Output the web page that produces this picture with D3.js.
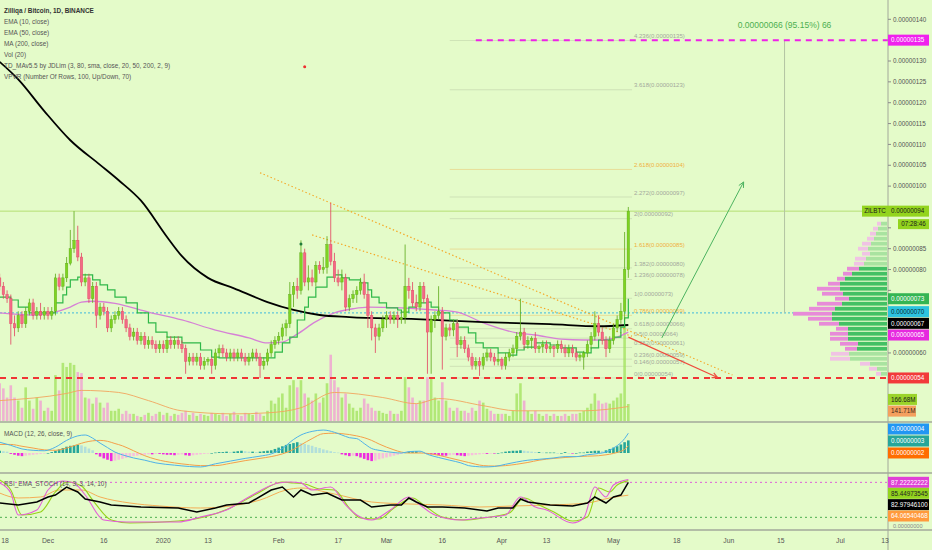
<!DOCTYPE html>
<html><head><meta charset="utf-8">
<script src="https://cdn.jsdelivr.net/npm/d3@7/dist/d3.min.js"></script>
<style>
html,body{margin:0;padding:0;background:#e4fbc9;overflow:hidden}
svg{display:block}
text{font-family:"Liberation Sans",Arial,sans-serif}
</style></head><body>
<svg id="chart" width="932" height="550"></svg>
<script>
// ---------------- DATA (prices in units of 1e-8 BTC) ----------------
const firstDay = "2019-11-18";
const ohlc = [
[78,79,75,76],[76,77,73,74],[74,75,72,73],[73,74,62,67],[67,69,64,66],[66,70,65,69],[69,70,66,67],[67,71,66,70],[70,73,69,72],[72,73,68,69],
[69,71,68,70],[70,72,68,69],[69,71,68,70],[70,71,68,69],[69,71,68,70],[70,79,69,78],[78,79,75,76],[76,79,75,78],[78,83,77,81.5],[81.5,89.5,81,85],
[85,94,84,87],[87,90.5,82,83],[83,84,76,77],[77,79,76,78],[78,79,72,73],[73,77,72,76],[76,77,66,69],[69,72,68,71],[71,72,69,70],[70,71,65,66],
[66,69,65,68],[68,70,67,69],[69,71,68,70],[70,71,67,68],[68,69,65,66],[66,67,63,64],[64,66,63,65],[65,66,62,63],[63,65,62,64],[64,65,61,62],
[62,64,61,63],[63,64,61,62],[62,63,60,61],[61,63,60,62],[62,63,60,61],[61,64,60,63],[63,64,61,62],[62,64,61,63],[63,64,61,62],[62,63,60,61],
[61,62,55,58],[58,60,57,59],[59,60,57,58],[58,60,57,59],[59,60,56,57],[57,59,56,58],[58,59,57,58.5],[58.5,59,55,57],[57,61,56,60],[60,62,59,61],
[61,62,59,60],[60,61,58,59],[59,61,58,60],[60,61,58,59],[59,61,58,60],[60,61,58,59],[59,60,57,58],[58,60,57,59],[59,61,58,60],[60,61,58,59],
[59,60,54,57],[57,59,56,58],[58,61,57,60],[60,63,59,62],[62,64,61,63],[63,65,62,64],[64,67,63,66],[66,68,64,67],[67,77,66,74],[74,77,71,76],
[76,78,73,75],[75,87,74,84],[84,85,76,77],[77,81,75,78],[78,80,76,77],[77,82,76,81],[81,82,79,80],[80,83,79,80.5],[80.5,88,79,86],[86,96,81,82],
[82,84,77,78],[78,80,76,77],[77,80,75,78],[78,79,70,71],[71,74,70,73],[73,75,72,74],[74,76,72,75],[75,78,74,77],[77,79,73,74],[74,75,66,69],
[69,70,63,66],[66,67,60,64],[64,67,63,66],[66,69,65,68],[68,70,66,69],[69,70,67,68],[68,70,67,69],[69,70,66,68],[68,70,67,68.5],[68.5,86,67,76],
[76,78,73,75],[75,77,71,72],[72,74,70,71],[71,77,70,76],[76,77,72,73],[73,74,55,65],[65,69,55,68],[68,70,66,69],[69,76,68,70],[70,71,56,64],
[64,67,63,66],[66,67,64,65.5],[65.5,68,64,67],[67,68,59,62],[62,64,61,63],[63,64,60,61],[61,62,58,59],[59,60,56,57],[57,59,56,58],[58,59,54.5,57],
[57,60,56,59],[59,61,58,60],[60,61,58,59],[59,60,57,58],[58,60,57,58.5],[58.5,59,56,57],[57,60,56,59],[59,61,58,60],[60,62,59,61],[61,65,60,64],
[64,73,63,65],[65,66,61,62],[62,64,61,63],[63,64,61,63.5],[63.5,65,60,61],[61,62,60,61.5],[61.5,63,60,62],[62,63,60,61],[61,62,60,61.5],[61.5,62,59,61],
[61,63,60,62],[62,63,60,61],[61,62,59,60],[60,62,59,61],[61,62,59,60],[60,61,58,59],[59,60,58,59.5],[59,60.5,56,60],[60,63,59,62],[62,65,61,64],
[64,70,63,67],[67,69,64,65],[65,66,62,63],[63,64,59,61],[61,64,60,63],[63,67,62,66],[66,69,65,68],[68,72,67,70],[70,89,68,80],[80,95,78,94]
];
// volume in millions
const volume = [
370,320,230,350,230,200,130,330,200,120, 230,200,100,130,100,450,300,570,530,570,
550,480,470,230,220,170,230,180,130,180, 100,100,120,70,100,70,70,50,40,60,
80,50,70,90,60,80,50,70,60,80, 100,60,80,50,70,60,50,80,70,60,
80,50,70,90,60,50,80,70,60,90, 70,50,100,200,170,230,270,130,350,400,
330,400,270,230,200,270,180,230,370,650, 400,330,230,270,170,130,100,130,220,170,
130,100,100,80,70,100,70,70,100,430, 330,230,170,200,200,430,430,230,200,380,
200,130,100,130,100,100,80,130,100,200, 180,120,100,70,70,70,70,50,100,270,
370,200,100,70,100,70,50,70,50,70, 50,50,70,50,70,70,80,100,130,170,
270,200,170,180,170,200,230,270,930,166.68
];
// [day index from firstDay, value]
const volMA = [[0,200],[18,270],[22,300],[32,280],[40,200],[49,100],[63,70],[72,80],[81,130],[90,280],[103,230],[112,170],[118,220],[130,150],[139,100],[157,100],[169,141.71]];
const ema50 = [[0,69.6],[9,69.1],[14,69.6],[19,71],[22,72.2],[25,72.4],[31,71.9],[40,69.8],[49,67.9],[58,65.5],[67,63.6],[72,62.4],[76,62.6],[80,64.5],[85,67.5],[90,69.6],[95,70.6],[99,71],[108,70.8],[117,70.3],[123,69.8],[130,67.2],[139,64.8],[144,64.3],[151,63.3],[157,63.1],[161,63.1],[165,63.5],[169,65]];
const ma200 = [[0,129.8],[5,125.6],[12,118],[19,111],[27,105.1],[32,101.4],[38,96.5],[45,87.8],[49,83.2],[56,78],[63,75.5],[72,72.2],[79,70.3],[86,69.1],[94,68.6],[112,68.1],[130,67.4],[148,66.9],[161,66.4],[169,66.7]];
const tdLine = [[0,73.4],[3,72.7],[5,71],[8,69.6],[15,72],[17,73.9],[18,75.8],[19,77.5],[21,78.2],[22,78.7],[25,77.5],[27,76.3],[29,75.1],[31,73.4],[34,72],[37,69.6],[40,67.2],[42,65],[45,63.8],[49,62.4],[54,60.7],[57,59],[59,58.8],[74,60.2],[76,62.4],[78,63.8],[80,67.9],[82,71],[83,73.4],[85,75.8],[88,78.2],[90,78.7],[92,78],[94,77.5],[97,76.8],[99,75.1],[100,73.4],[102,72],[104,70.8],[107,70.3],[108,69.8],[110,71],[112,72],[115,72.2],[116,71],[118,69.6],[121,67.9],[123,66.2],[126,64.8],[128,62.4],[130,61.2],[134,60],[137,59.5],[139,60.7],[141,61.4],[144,62.4],[148,61.9],[151,61.2],[155,60.2],[157,60],[159,61.2],[161,63.1],[165,63.8],[167,66.2],[168,68.4],[169,73]];
// MACD in units of 1e-9
const macdLine = [[0,24],[3,17],[6,9],[9,6],[12,5],[15,13],[18,28],[21,38],[23,40],[25,33],[27,22],[29,12],[31,2],[33,-4],[36,-11],[39,-16],[42,-22],[47,-27],[51,-30],[54,-31],[58,-24],[62,-18],[66,-12],[70,-7],[73,-2],[76,10],[79,30],[81,40],[84,48],[87,51],[90,46],[92,40],[94,34],[96,32],[98,21],[100,10],[102,6],[104,3],[106,1],[108,0],[110,3],[113,4],[115,-3],[118,-10],[121,-16],[124,-22],[126,-28],[128,-30],[130,-31],[133,-30],[136,-25],[139,-20],[142,-16],[145,-14],[149,-11],[152,-8],[155,-8],[158,-4],[161,-1],[163,2],[165,11],[167,23],[168,32],[169,44]];
const signalLine = [[0,19],[3,19],[6,15],[9,11],[12,7],[15,6],[18,11],[21,19],[23,24],[25,27],[27,28],[29,26],[31,21],[33,16],[36,5],[39,-6],[42,-14],[47,-22],[51,-26],[54,-28],[58,-28],[62,-23],[66,-17],[70,-12],[73,-8],[76,-2],[79,8],[81,18],[84,32],[87,43],[90,44],[92,43],[94,41],[96,38],[98,34],[100,28],[102,20],[104,13],[106,7],[108,2],[110,0],[113,0],[115,-1],[118,-5],[121,-11],[124,-17],[126,-21],[128,-25],[130,-28],[133,-29],[136,-28],[139,-25],[142,-21],[145,-16],[149,-12],[152,-10],[155,-8],[158,-7],[161,-6],[163,-4],[165,-1],[167,4],[168,8],[169,16]];
const macdHist = [5,4,3, -2,-4,-6,-7,-6,-5, -4,-3,-2,-1,0,2, 5,8,11,14,16,17,18,17, 14,10,6, -3,-8,-12,-15,-18,-17,
 -15,-13,-11,-9,-7,-6,-5, -4,-3,-3,-2,-2,-3,-4,-4,-5,-4,-3,-5,-6,-5,-4,-3,-2, -1,0,1,2,2,3,2, 3,4,5,4,3,3,2,3,4,5,
 6,9,12,15,18,20,22,24, 22,20,18,16,13,11,8,6,4,2, 1,-3,-5,-7,-6,-7,-10,-13,-16,-18,-17,-14,-12,-10,-8,-6,-4,-2,
 1,3,4,4,3,2, -2,-3,-4,-5,-6,-6,-5,-4,-5,-6,-7,-6,-5,-4, -3,-2,-2,-1,-1,0,1, 3,4,5,5,6,5,4,3, 2,2,1,1,1,1,0,0,
 2,0,-1,0,1,1, 3,4,5,5,4, 6,9,12,15,19,24,28];
const rsiBlack = [[0,44.6],[5,41.2],[10,46.3],[13,54.9],[15,58.3],[18,72],[21,63.5],[23,51.5],[27,46.3],[30,41.2],[38,37.7],[48,36],[53,29.2],[58,36],[61,41.2],[67,44.6],[73,66.9],[76,72],[79,54.9],[81,66.9],[84,58.3],[88,61.7],[92,49.7],[97,49.7],[100,37.7],[105,41.2],[108,41.2],[110,53.2],[112,46.3],[115,37.7],[119,37.7],[125,36],[131,30.9],[134,36],[138,36],[140,51.5],[142,46.3],[148,41.2],[154,39.5],[158,44.6],[160,54.9],[163,44.6],[165,54.9],[167,58.3],[169,80]];
const rsiPink = [[0,78.9],[3,61.7],[5,24],[10,32.6],[13,66.9],[17,82.3],[20,78.9],[23,58.3],[28,15.4],[34,12],[48,12],[54,20.6],[61,32.6],[67,54.9],[75,78.9],[78,80.6],[81,78.9],[84,66.9],[89,72],[93,41.2],[96,24],[100,15.4],[105,32.6],[110,54.9],[112,46.3],[117,24],[124,15.4],[129,18.9],[136,24],[140,54.9],[144,37.7],[147,32.6],[154,10.3],[157,18.9],[160,72],[163,54.9],[165,75.5],[169,85]];
const rsiLime = [[0,84],[3,66.9],[6,24],[11,29.2],[15,63.5],[18,80.6],[22,73.7],[25,49.7],[30,15.4],[35,10.3],[48,13.7],[55,20.6],[62,36],[69,60],[76,80.6],[79,78.9],[82,77.2],[86,68.6],[90,66.9],[94,36],[97,18.9],[102,17.1],[106,36],[111,53.2],[114,41.2],[119,20.6],[125,15.4],[130,18.9],[137,27.4],[141,53.2],[145,41.2],[149,29.2],[154,13.7],[158,20.6],[161,70.3],[164,63.5],[166,75.5],[169,83]];
const rsiOrange = [[0,61.7],[5,53.2],[11,54.9],[16,66.9],[22,66.9],[27,54.9],[35,44.6],[43,39.5],[54,36],[62,39.5],[70,49.7],[77,66.9],[81,70.3],[90,60],[100,46.3],[110,42.9],[119,41.2],[129,37.7],[138,39.5],[148,41.2],[158,44.6],[164,53.2],[169,58]];
const rsiLevels = [80,20];
// volume profile rows: [price, up volume, down volume]
const vpRows = [[55,6,5],[56.2,10,8],[57.4,17,10],[58.6,37,20],[59.8,38,18],[61,30,12],[62.2,29,18],[63.4,39,18],[64.6,39,18],[65.8,39,12],[67,48,20],[68.2,55,24],[69.4,55,39],[70.6,52,26],[71.8,45,25],[73,38,14],[74.2,44,21],[75.4,47,23],[76.6,47,12],[77.8,42,8],[79,35,9],[80.2,28,12],[81.4,23,10],[82.6,21,11],[83.8,17,8],[85,19,10],[86.2,16,9],[87.4,13,7],[88.6,11,6],[89.8,9,5],[91,6,4]];
const valueArea = [60.4,80.8];
const pocPrice = 69.6;
const fibRatios = [4.236,3.618,2.618,2.272,2,1.618,1.382,1.236,1,0.786,0.618,0.5,0.382,0.236,0.146,0];
const fibGold = [2.618,1.618,0.786];
const fibBase = [54,73.1];
const fibDates = ["2020-03-18","2020-05-06"];
const trendLines = [[["2020-01-27",103.2],["2020-06-02",54.7]],[["2020-02-10",88.3],["2020-05-06",64]]];
const greenArrow = [["2020-05-14",63.6],["2020-06-05",101]];
const redArrow = [["2020-05-05",63.8],["2020-05-29",54.1]];
const targetLine = {start:"2020-03-25", value:135};
const supportValue = 54;
const measure = {date:"2020-06-16", from:135, to:69.6, text:"0.00000066 (95.15%) 66"};
const dots = [{date:"2020-02-08",v:128.6,c:"#ee3030"},{date:"2020-02-07",v:86.1,c:"#1f7a3a"}];
const priceTicks = [45,50,55,60,65,70,75,80,85,90,95,100,105,110,115,120,125,130,135,140];
const timeTicks = [["2019-11-18","18"],["2019-12-01","Dec"],["2019-12-16","16"],["2020-01-01","2020"],["2020-01-13","13"],["2020-02-01","Feb"],["2020-02-17","17"],["2020-03-01","Mar"],["2020-03-16","16"],["2020-04-01","Apr"],["2020-04-13","13"],["2020-05-01","May"],["2020-05-18","18"],["2020-06-01","Jun"],["2020-06-15","15"],["2020-07-01","Jul"],["2020-07-13","13"]];
const legendLines = ["Zilliqa / Bitcoin, 1D, BINANCE","EMA (10, close)","EMA (50, close)","MA (200, close)","Vol (20)","TD_MAv5.5 by JDLim (3, 80, sma, close, 20, 50, 200, 2, 9)","VPVR (Number Of Rows, 100, Up/Down, 70)"];
const countdown = "07:28:46";
const macdLabels = [{v:44,t:"0.00000004",bg:"#2196f3",fg:"#fff"},{v:28,t:"0.00000003",bg:"#26a69a",fg:"#fff"},{v:16,t:"0.00000002",bg:"#ff6d00",fg:"#fff"}];
const rsiLabels = [{v:87.22222222,t:"87.22222222",bg:"#e040d6",fg:"#fff"},{v:85.44973545,t:"85.44973545",bg:"#93d41e",fg:"#222"},{v:82.979461,t:"82.97946100",bg:"#000",fg:"#fff"},{v:64.06540468,t:"64.06540468",bg:"#ff9a3c",fg:"#fff"}];

// ---------------- RENDER ----------------
const svg = d3.select("#chart");
const AX = 888;
const parse = d3.utcParse("%Y-%m-%d");
const t0 = parse(firstDay).getTime();
const dateOf = i => new Date(t0 + i*864e5);
const x = d3.scaleUtc().domain([parse("2019-12-01"), parse("2020-07-13")]).range([48,885]);
const xi = i => x(dateOf(i));
const xd = s => x(parse(s));
const y = d3.scaleLinear().domain([45,140]).range([415.5,19.3]);
const yVol = d3.scaleLinear().domain([0,1000]).range([421,319]);
const yM = d3.scaleLinear().domain([-45,45]).range([473.25,432.75]);
const yR = d3.scaleLinear().domain([0,100]).range([529,470.7]);
const fmt = v => "0.00000" + String(Math.round(v)).padStart(3,"0");

svg.append("rect").attr("width",932).attr("height",550).attr("fill","#e4fbc9");
const defs = svg.append("defs");
function clip(id,x0,y0,w,h){defs.append("clipPath").attr("id",id).append("rect").attr("x",x0).attr("y",y0).attr("width",w).attr("height",h);}
clip("cp",0,0,AX,421); clip("cm",0,423,AX,49); clip("cr",0,474,AX,56);
const gP = svg.append("g").attr("clip-path","url(#cp)");
const gM = svg.append("g").attr("clip-path","url(#cm)");
const gR = svg.append("g").attr("clip-path","url(#cr)");

// fib levels
const fx1 = xd(fibDates[0]), fx2 = xd(fibDates[1]);
fibRatios.forEach(r=>{
  const v = fibBase[0] + r*(fibBase[1]-fibBase[0]);
  const gold = fibGold.includes(r);
  gP.append("line").attr("x1",fx1).attr("x2",fx2).attr("y1",y(v)).attr("y2",y(v))
    .attr("stroke",gold?"rgba(240,170,60,0.35)":"rgba(130,140,120,0.22)").attr("stroke-width",1);
  gP.append("text").attr("x",fx2+2).attr("y",y(v)-2.3).attr("font-size",6).attr("fill",gold?"#f0b040":"#a3a89c")
    .text(`${r}(${fmt(v)})`);
});

// horizontal lines
gP.append("line").attr("x1",0).attr("x2",AX).attr("y1",y(ohlc[ohlc.length-1][3])).attr("y2",y(ohlc[ohlc.length-1][3])).attr("stroke","#b7df74").attr("stroke-width",1);
gP.append("line").attr("x1",0).attr("x2",AX).attr("y1",y(pocPrice)).attr("y2",y(pocPrice)).attr("stroke","#3fb8dc").attr("stroke-width",1).attr("stroke-dasharray","2,2");
// measure vertical
const mx = xd(measure.date);
gP.append("line").attr("x1",mx).attr("x2",mx).attr("y1",y(measure.from)).attr("y2",y(measure.to)).attr("stroke","#b3c4a2").attr("stroke-width",1);
svg.append("text").attr("x",mx).attr("y",28).attr("text-anchor","middle").attr("font-size",8.5).attr("fill","#4caf50").text(measure.text);

// volume profile
const wScale = d3.scaleLinear().domain([0,100]).range([0,100]);
vpRows.forEach(([p,up,dn])=>{
  const inVA = p>=valueArea[0] && p<=valueArea[1];
  const yc = y(p), h = 3.8;
  gP.append("rect").attr("x",AX-1-wScale(up)).attr("y",yc-h/2).attr("width",wScale(up)).attr("height",h)
    .attr("fill",inVA?"#43c064":"#a9e3a0");
  gP.append("rect").attr("x",AX-1-wScale(up)-wScale(dn)).attr("y",yc-h/2).attr("width",wScale(dn)).attr("height",h)
    .attr("fill",inVA?"#e78bd8":"#f0c3e4");
});

// volume bars
const bw = 2.6;
gP.selectAll("rect.vol").data(volume).join("rect").attr("class","vol")
  .attr("x",(d,i)=>xi(i)-bw/2).attr("width",bw)
  .attr("y",d=>yVol(d)).attr("height",d=>yVol(0)-yVol(d))
  .attr("fill",(d,i)=>ohlc[i][3]>=ohlc[i][0]?"rgba(160,225,90,0.75)":"rgba(240,160,210,0.8)");
gP.append("path").datum(volMA).attr("fill","none").attr("stroke","#f2a55e").attr("stroke-width",0.9)
  .attr("d",d3.line().x(d=>xi(d[0])).y(d=>yVol(d[1])).curve(d3.curveMonotoneX));

// red support dashed & magenta target dashed
gP.append("line").attr("x1",0).attr("x2",AX).attr("y1",y(supportValue)).attr("y2",y(supportValue))
  .attr("stroke","#f03535").attr("stroke-width",2).attr("stroke-dasharray","6,5");
gP.append("line").attr("x1",xd(targetLine.start)).attr("x2",AX).attr("y1",y(targetLine.value)).attr("y2",y(targetLine.value))
  .attr("stroke","#ee22e6").attr("stroke-width",2).attr("stroke-dasharray","6,5");

// trendlines
trendLines.forEach(tl=>{
  gP.append("line").attr("x1",xd(tl[0][0])).attr("y1",y(tl[0][1])).attr("x2",xd(tl[1][0])).attr("y2",y(tl[1][1]))
    .attr("stroke","#f5a623").attr("stroke-width",1.2).attr("stroke-dasharray","1.4,2.4");
});

// moving averages
const lineGen = (sc,curve)=>d3.line().x(d=>xi(d[0])).y(d=>sc(d[1])).curve(curve||d3.curveMonotoneX);
gP.append("path").datum(ema50).attr("fill","none").attr("stroke","#d680d6").attr("stroke-width",1.3).attr("d",lineGen(y));
gP.append("path").datum(ma200).attr("fill","none").attr("stroke","#000").attr("stroke-width",1.8).attr("d",lineGen(y));
gP.append("path").datum(tdLine).attr("fill","none").attr("stroke","#2fb848").attr("stroke-width",1.2).attr("d",lineGen(y,d3.curveStepAfter));

// candles
const UP="#7ed321", UPs="#5aa817", DN="#f36a86", DNs="#e2405f";
const cw = 2.5;
gP.selectAll("line.wick").data(ohlc).join("line").attr("class","wick")
  .attr("x1",(d,i)=>xi(i)).attr("x2",(d,i)=>xi(i)).attr("y1",d=>y(d[1])).attr("y2",d=>y(d[2]))
  .attr("stroke",d=>d[3]>=d[0]?UPs:DNs).attr("stroke-width",0.8);
gP.selectAll("rect.body").data(ohlc).join("rect").attr("class","body")
  .attr("x",(d,i)=>xi(i)-cw/2).attr("width",cw)
  .attr("y",d=>y(Math.max(d[0],d[3]))).attr("height",d=>Math.max(0.8,Math.abs(y(d[0])-y(d[3]))))
  .attr("fill",d=>d[3]>=d[0]?UP:DN).attr("stroke",d=>d[3]>=d[0]?UPs:DNs).attr("stroke-width",0.4);

// arrows
function arrow(g,a,color,w){
  const x1=xd(a[0][0]),y1=y(a[0][1]),x2=xd(a[1][0]),y2=y(a[1][1]);
  g.append("line").attr("x1",x1).attr("y1",y1).attr("x2",x2).attr("y2",y2).attr("stroke",color).attr("stroke-width",w);
  const ang=Math.atan2(y2-y1,x2-x1), L=6;
  [0.45,-0.45].forEach(da=>{
    g.append("line").attr("x1",x2).attr("y1",y2).attr("x2",x2-L*Math.cos(ang+da)).attr("y2",y2-L*Math.sin(ang+da))
      .attr("stroke",color).attr("stroke-width",w);
  });
}
arrow(gP,greenArrow,"#4cb360",1);
arrow(gP,redArrow,"#ef4a3c",1.2);
dots.forEach(d=>gP.append("circle").attr("cx",xd(d.date)).attr("cy",y(d.v)).attr("r",1.5).attr("fill",d.c));

// legend
legendLines.forEach((t,k)=>{
  svg.append("text").attr("x",4).attr("y",12.9+k*11).attr("font-size",6.4)
    .attr("font-weight",k===0?"bold":"normal").attr("fill",k===0?"#333":"#555").text(t);
});

// ---------------- MACD pane ----------------
gM.selectAll("rect.h").data(macdHist).join("rect").attr("class","h")
  .attr("x",(d,i)=>xi(i)-1.3).attr("width",2.6)
  .attr("y",d=>Math.min(yM(d),yM(0))).attr("height",d=>Math.max(0.6,Math.abs(yM(d)-yM(0))))
  .attr("fill",(d,i)=>{const p=i>0?macdHist[i-1]:d; if(d>=0) return d>=p?"#26a69a":"#b2dfdb"; return d<=p?"#ee2ae0":"#f7bfdc";});
gM.append("path").datum(signalLine).attr("fill","none").attr("stroke","#f5a04a").attr("stroke-width",1).attr("d",lineGen(yM));
gM.append("path").datum(macdLine).attr("fill","none").attr("stroke","#4fb2e8").attr("stroke-width",1).attr("d",lineGen(yM));
svg.append("text").attr("x",4).attr("y",435.6).attr("font-size",6.4).attr("fill","#555").text("MACD (12, 26, close, 9)");

// ---------------- RSI pane ----------------
gR.append("line").attr("x1",0).attr("x2",AX).attr("y1",yR(rsiLevels[0])).attr("y2",yR(rsiLevels[0])).attr("stroke","#e060d8").attr("stroke-width",1).attr("stroke-dasharray","2,3");
gR.append("line").attr("x1",0).attr("x2",AX).attr("y1",yR(rsiLevels[1])).attr("y2",yR(rsiLevels[1])).attr("stroke","#4caf50").attr("stroke-width",1).attr("stroke-dasharray","2,3");
gR.append("path").datum(rsiOrange).attr("fill","none").attr("stroke","#f5ad55").attr("stroke-width",1).attr("d",lineGen(yR));
gR.append("path").datum(rsiLime).attr("fill","none").attr("stroke","#96d21a").attr("stroke-width",1.1).attr("d",lineGen(yR));
gR.append("path").datum(rsiPink).attr("fill","none").attr("stroke","#e35ed6").attr("stroke-width",1.1).attr("d",lineGen(yR));
gR.append("path").datum(rsiBlack).attr("fill","none").attr("stroke","#000").attr("stroke-width",1.5).attr("d",lineGen(yR,d3.curveLinear));
svg.append("text").attr("x",4).attr("y",485.6).attr("font-size",6.4).attr("fill","#555").text("RSI_EMA_STOCH (14, 3, 3, 14, 10)");

// ---------------- separators & axes ----------------
[422,473,530].forEach(yy=>svg.append("line").attr("x1",0).attr("x2",932).attr("y1",yy).attr("y2",yy).attr("stroke","#a3a89a").attr("stroke-width",1.4));
svg.append("line").attr("x1",AX).attr("x2",AX).attr("y1",0).attr("y2",550).attr("stroke","#a3a89a").attr("stroke-width",1);

// time ticks (kept inside the picture)
timeTicks.forEach(([d,t])=>{
  const tx = Math.max(xd(d), 5);
  svg.append("text").attr("x",tx).attr("y",543).attr("text-anchor","middle").attr("font-size",6.8).attr("fill","#555").text(t);
});

// label placement helper
function place(items,lo,hi,gap){
  items.sort((a,b)=>a.y-b.y);
  for(let it=0;it<200;it++){
    let moved=false;
    for(let k=0;k<items.length-1;k++){
      const a=items[k],b=items[k+1],ov=gap-(b.y-a.y);
      if(ov>0.01){a.y-=ov/2;b.y+=ov/2;moved=true;}
    }
    items.forEach(d=>{d.y=Math.max(lo,Math.min(hi,d.y));});
    if(!moved)break;
  }
  return items;
}
function drawLabel(d,w){
  const h=11;
  svg.append("rect").attr("x",AX).attr("y",d.y-h/2).attr("width",w||41).attr("height",h).attr("fill",d.bg);
  svg.append("text").attr("x",AX+3).attr("y",d.y).attr("dy","0.35em").attr("font-size",6.3).attr("fill",d.fg).text(d.t);
}
const last = ohlc[ohlc.length-1][3];
const priceLabels = place([
  {y:y(targetLine.value),t:fmt(targetLine.value),bg:"#f020ee",fg:"#fff"},
  {y:y(last),t:fmt(last),bg:"#93d41e",fg:"#1a1a1a",main:true},
  {y:y(tdLine[tdLine.length-1][1]),t:fmt(tdLine[tdLine.length-1][1]),bg:"#34b553",fg:"#fff"},
  {y:y(pocPrice),t:fmt(pocPrice),bg:"#2cc3df",fg:"#0b2b33"},
  {y:y(ma200[ma200.length-1][1]),t:fmt(ma200[ma200.length-1][1]),bg:"#000",fg:"#fff"},
  {y:y(ema50[ema50.length-1][1]),t:fmt(ema50[ema50.length-1][1]),bg:"#e629df",fg:"#fff"},
  {y:y(supportValue),t:fmt(supportValue),bg:"#f23a3a",fg:"#fff"},
  {y:yVol(volume[volume.length-1]),t:volume[volume.length-1].toFixed(2)+"M",bg:"#9bd42a",fg:"#1a1a1a",w:29},
  {y:yVol(volMA[volMA.length-1][1]),t:volMA[volMA.length-1][1].toFixed(2)+"M",bg:"#f4a05e",fg:"#3a2a1a",w:28}
],6,415.5,11.7);

// price ticks: hidden where a coloured label sits on top (as on the reference)
const busy = priceLabels.map(d=>d.y).concat(priceLabels.filter(d=>d.main).map(d=>d.y+13));
priceTicks.forEach(v=>{
  svg.append("line").attr("x1",AX).attr("x2",AX+3).attr("y1",y(v)).attr("y2",y(v)).attr("stroke","#8a8a8a");
  if(busy.some(b=>Math.abs(b-y(v))<9.5)) return;
  svg.append("text").attr("x",AX+5).attr("y",y(v)).attr("dy","0.35em").attr("font-size",6.3).attr("fill","#555").text(fmt(v));
});

priceLabels.forEach(d=>{
  drawLabel(d,d.w);
  if(d.main){
    svg.append("rect").attr("x",862).attr("y",d.y-5.5).attr("width",26).attr("height",11).attr("fill","#93d41e");
    svg.append("text").attr("x",875).attr("y",d.y).attr("dy","0.35em").attr("text-anchor","middle").attr("font-size",6.3).attr("fill","#1a1a1a").text("ZILBTC");
    svg.append("rect").attr("x",898).attr("y",d.y+13-5).attr("width",31).attr("height",10).attr("fill","#93d41e");
    svg.append("text").attr("x",913.5).attr("y",d.y+13).attr("dy","0.35em").attr("text-anchor","middle").attr("font-size",6.3).attr("fill","#1a1a1a").text(countdown);
  }
});
const macdPlaced = place(macdLabels.map(d=>({...d,y:yM(d.v)})),429,467,12);
macdPlaced.forEach(d=>drawLabel(d));
const rsiPlaced = place(rsiLabels.map(d=>({...d,y:yR(d.v)})),482.3,516,11.7);
rsiPlaced.forEach(d=>drawLabel(d));
// the pane's zero value, shown below the last RSI label where space remains
svg.append("text").attr("x",AX+5).attr("y",526).attr("dy","0.35em").attr("font-size",5.6).attr("fill","#888").text("0.00000000");
</script>
</body></html>
